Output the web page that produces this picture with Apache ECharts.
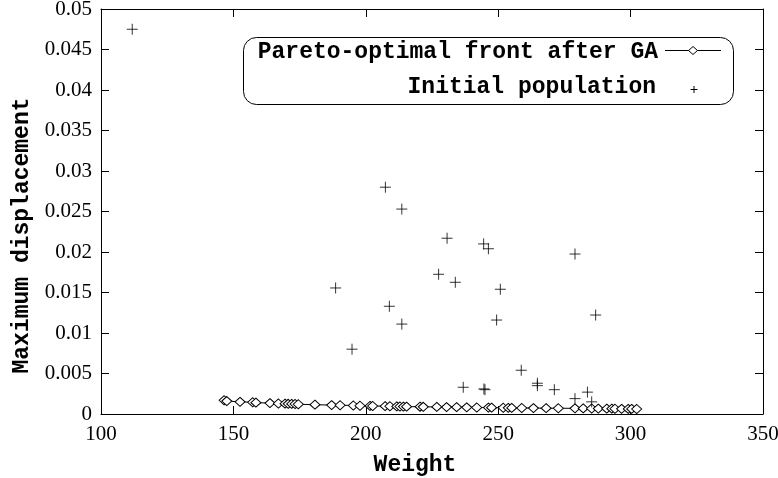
<!DOCTYPE html>
<html>
<head>
<meta charset="utf-8">
<script src="https://cdn.jsdelivr.net/npm/echarts@6/dist/echarts.min.js"></script>
<style>
  html, body { margin: 0; padding: 0; background: #fff; }
  #chart { width: 778px; height: 478px; }
</style>
</head>
<body>
<div id="chart"></div>
<script>
// Pareto-optimal front obtained after the GA run
const paretoWeight = [146.5, 147.5, 152.5, 157.3, 158.5, 163.8, 167.0, 169.5, 170.7, 172.0,
  173.3, 174.5, 180.8, 187.1, 190.3, 195.3, 197.8, 201.6, 202.6, 207.3,
  209.1, 211.7, 212.9, 214.2, 215.4, 220.5, 221.7, 226.8, 230.5, 234.3,
  238.1, 241.9, 246.3, 247.5, 251.9, 253.8, 255.1, 258.9, 263.3, 268.1,
  272.7, 279.0, 282.1, 285.3, 287.8, 291.0, 292.9, 294.1, 296.6, 299.1,
  300.4, 302.3];
const paretoDisp = [0.0017, 0.0016, 0.0015, 0.00145, 0.0014, 0.00135, 0.0013, 0.00128, 0.00126, 0.00125,
  0.00123, 0.0012, 0.00115, 0.0011, 0.00108, 0.00105, 0.00102, 0.0010, 0.00099, 0.00097,
  0.00096, 0.00094, 0.00093, 0.00092, 0.00091, 0.0009, 0.00089, 0.00087, 0.00085, 0.00084,
  0.00082, 0.0008, 0.00079, 0.00078, 0.00077, 0.00076, 0.00075, 0.00074, 0.00073, 0.00072,
  0.00071, 0.0007, 0.00069, 0.00068, 0.00067, 0.00066, 0.00066, 0.00065, 0.00064, 0.00063,
  0.00063, 0.00062];

// Initial random population
const initWeight = [111.8, 207.4, 213.6, 230.7, 244.5, 246.3, 279.0, 227.5, 233.8, 250.8,
  188.6, 208.9, 213.6, 249.4, 286.8, 194.8, 258.7, 236.8, 244.6, 245.0,
  264.8, 264.8, 271.2, 279.0, 283.7, 285.3];
const initDisp = [0.0475, 0.0280, 0.0253, 0.0217, 0.0210, 0.0204, 0.01975, 0.01725, 0.01626, 0.0154,
  0.01556, 0.0133, 0.0111, 0.0116, 0.01222, 0.0080, 0.0054, 0.0033, 0.0031, 0.0030,
  0.0038, 0.0035, 0.0030, 0.0019, 0.0027, 0.0015];

const xTickLabels = ['100', '150', '200', '250', '300', '350'];
const yTickLabels = ['0', '0.005', '0.01', '0.015', '0.02', '0.025', '0.03', '0.035', '0.04', '0.045', '0.05'];

const seriesNames = ['Pareto-optimal front after GA', 'Initial population'];
const xName = 'Weight';
const yName = 'Maximum displacement';

const X_MIN = 100, X_MAX = 350, X_STEP = 50;
const Y_MIN = 0, Y_MAX = 0.05, Y_STEP = 0.005;

const mono = '"Liberation Mono", "DejaVu Sans Mono", monospace';
const serif = '"Liberation Serif", "DejaVu Serif", serif';

const paretoData = paretoWeight.map((w, i) => [w, paretoDisp[i]]);
const initData = initWeight.map((w, i) => [w, initDisp[i]]);

const xLabel = v => xTickLabels[Math.round((v - X_MIN) / X_STEP)] ?? '';
const yLabel = v => yTickLabels[Math.round((v - Y_MIN) / Y_STEP)] ?? '';

const tickStyle = { show: true, inside: true, length: 8, lineStyle: { color: '#000', width: 1 } };
const lineStyle = { show: true, onZero: false, lineStyle: { color: '#000', width: 1 } };

const chart = echarts.init(document.getElementById('chart'), null, { renderer: 'canvas' });

chart.setOption({
  animation: false,
  backgroundColor: '#fff',
  grid: { left: 101, right: 15, top: 9, bottom: 64, containLabel: false, outerBoundsMode: 'none' },
  xAxis: [
    {
      type: 'value', min: X_MIN, max: X_MAX, interval: X_STEP, position: 'bottom',
      axisLine: lineStyle, axisTick: tickStyle, splitLine: { show: false },
      axisLabel: { formatter: xLabel, color: '#000', fontFamily: serif, fontSize: 21, margin: 10 },
      name: xName, nameLocation: 'middle', nameGap: 40,
      nameTextStyle: { fontFamily: mono, fontWeight: 'bold', fontSize: 23, color: '#000', padding: [0, 34, 0, 0] }
    },
    {
      type: 'value', min: X_MIN, max: X_MAX, interval: X_STEP, position: 'top',
      axisLine: lineStyle, axisTick: tickStyle, axisLabel: { show: false }, splitLine: { show: false }
    }
  ],
  yAxis: [
    {
      type: 'value', min: Y_MIN, max: Y_MAX, interval: Y_STEP, position: 'left',
      axisLine: lineStyle, axisTick: tickStyle, splitLine: { show: false },
      axisLabel: { formatter: yLabel, color: '#000', fontFamily: serif, fontSize: 21, margin: 9, padding: [4, 0, 0, 0] },
      name: yName, nameLocation: 'middle', nameGap: 66,
      nameTextStyle: { fontFamily: mono, fontWeight: 'bold', fontSize: 23, color: '#000', padding: [0, 48, 0, 0] }
    },
    {
      type: 'value', min: Y_MIN, max: Y_MAX, interval: Y_STEP, position: 'right',
      axisLine: lineStyle, axisTick: tickStyle, axisLabel: { show: false }, splitLine: { show: false }
    }
  ],
  series: [
    {
      name: seriesNames[0], type: 'line', data: paretoData,
      xAxisIndex: 0, yAxisIndex: 0,
      symbol: 'diamond', symbolSize: [10, 9], showAllSymbol: true,
      lineStyle: { color: '#000', width: 1 },
      itemStyle: { color: '#fff', borderColor: '#000', borderWidth: 1 },
      z: 3
    },
    {
      name: seriesNames[1], type: 'scatter', data: initData,
      xAxisIndex: 0, yAxisIndex: 0,
      symbol: 'path://M0,5L10,5M5,0L5,10', symbolSize: 11,
      itemStyle: { color: 'transparent', borderColor: '#000', borderWidth: 1 },
      z: 4
    }
  ],
  graphic: [
    {
      type: 'rect', left: 243, top: 37, silent: true,
      shape: { width: 490, height: 67, r: 13 },
      style: { fill: '#fff', stroke: '#000', lineWidth: 1 }, z: 10
    },
    {
      type: 'text', x: 658, y: 52, silent: true,
      style: { text: seriesNames[0], fill: '#000', font: 'bold 23px ' + mono, align: 'right', verticalAlign: 'middle' }, z: 11
    },
    {
      type: 'text', x: 656, y: 87, silent: true,
      style: { text: seriesNames[1], fill: '#000', font: 'bold 23px ' + mono, align: 'right', verticalAlign: 'middle' }, z: 11
    },
    {
      type: 'line', silent: true,
      shape: { x1: 665, y1: 50.5, x2: 721, y2: 50.5 },
      style: { stroke: '#000', lineWidth: 1 }, z: 11
    },
    {
      type: 'polygon', silent: true,
      shape: { points: [[688.5, 50.5], [693, 46.5], [697.5, 50.5], [693, 54.5]] },
      style: { fill: '#fff', stroke: '#000', lineWidth: 1 }, z: 12
    },
    {
      type: 'line', silent: true,
      shape: { x1: 690.5, y1: 89.5, x2: 697.5, y2: 89.5 },
      style: { stroke: '#000', lineWidth: 1 }, z: 11
    },
    {
      type: 'line', silent: true,
      shape: { x1: 694, y1: 86, x2: 694, y2: 93 },
      style: { stroke: '#000', lineWidth: 1 }, z: 11
    }
  ]
});
</script>
</body>
</html>
